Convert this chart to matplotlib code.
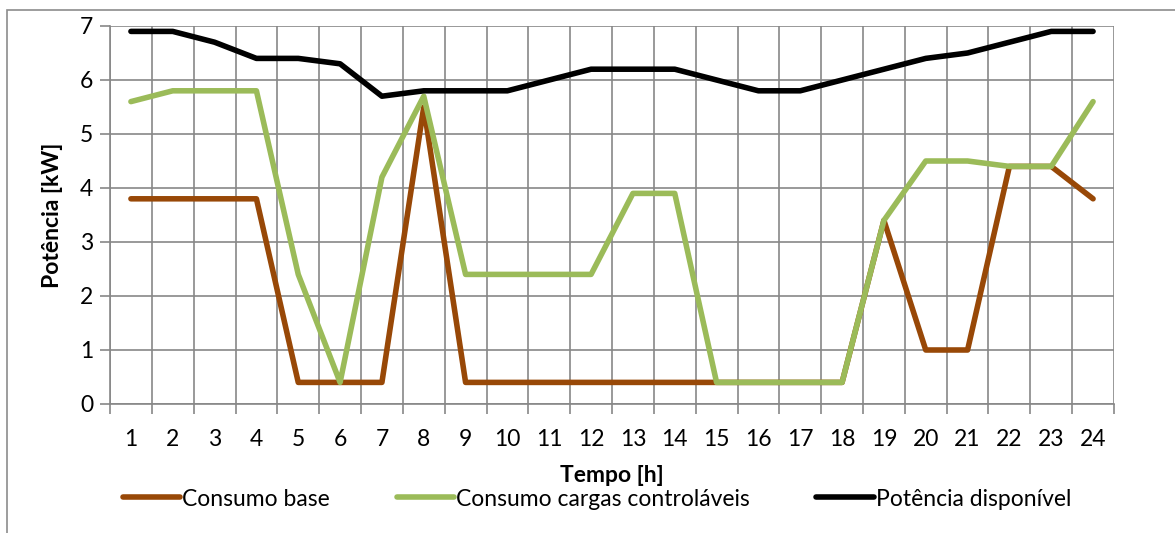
import matplotlib
matplotlib.use("Agg")
import matplotlib.pyplot as plt
from matplotlib.patches import Rectangle
from matplotlib.ticker import FixedLocator, NullFormatter

plt.rcParams["font.family"] = ["Lato", "DejaVu Sans"]

hours = list(range(1, 25))
consumo_base = [3.8, 3.8, 3.8, 3.8, 0.4, 0.4, 0.4, 5.5, 0.4, 0.4, 0.4, 0.4,
                0.4, 0.4, 0.4, 0.4, 0.4, 0.4, 3.4, 1.0, 1.0, 4.4, 4.4, 3.8]
consumo_controlaveis = [5.6, 5.8, 5.8, 5.8, 2.4, 0.4, 4.2, 5.7, 2.4, 2.4, 2.4, 2.4,
                        3.9, 3.9, 0.4, 0.4, 0.4, 0.4, 3.4, 4.5, 4.5, 4.4, 4.4, 5.6]
potencia_disponivel = [6.9, 6.9, 6.7, 6.4, 6.4, 6.3, 5.7, 5.8, 5.8, 5.8, 6.0, 6.2,
                       6.2, 6.2, 6.0, 5.8, 5.8, 6.0, 6.2, 6.4, 6.5, 6.7, 6.9, 6.9]

GRID = "#878787"
FS = 16.5

fig = plt.figure(figsize=(11.75, 5.33), dpi=100)
# outer chart-area frame (runs off the right and bottom edge like the original)
fig.patches.append(Rectangle((7 / 1175, -0.2), 1.2, 1.2 - 10 / 533,
                             transform=fig.transFigure, fill=False,
                             edgecolor="#8c8c8c", linewidth=1.2))
ax = fig.add_axes([110 / 1175, 1 - 404 / 533, 1004 / 1175, 378 / 533])

style = dict(linewidth=4, solid_capstyle="round", solid_joinstyle="round")
ax.plot(hours, consumo_base, color="#984807", label="Consumo base", **style)
ax.plot(hours, consumo_controlaveis, color="#9BBB59",
        label="Consumo cargas controláveis", **style)
ax.plot(hours, potencia_disponivel, color="black",
        label="Potência disponível", **style)

ax.set_xlim(0.5, 24.5)
ax.set_ylim(0, 7)
ax.set_yticks(range(0, 8))

# gridlines / tick marks on category boundaries, labels at category centres
ax.xaxis.set_major_locator(FixedLocator([h + 0.5 for h in range(0, 25)]))
ax.xaxis.set_major_formatter(NullFormatter())
ax.xaxis.set_minor_locator(FixedLocator(hours))
ax.set_xticklabels([str(h) for h in hours], minor=True)
ax.tick_params(axis="x", which="minor", length=0, pad=18, labelsize=FS)
ax.tick_params(axis="x", which="major", length=7, width=1.2, color=GRID)
ax.tick_params(axis="y", length=7, width=1.2, color=GRID, pad=5, labelsize=FS)

ax.grid(True, which="major", color=GRID, linewidth=1.2)
ax.set_axisbelow(True)
for side in ("top", "right"):
    ax.spines[side].set_visible(False)
for side in ("left", "bottom"):
    ax.spines[side].set_color(GRID)
    ax.spines[side].set_linewidth(1.2)

ax.set_xlabel("Tempo [h]", fontsize=FS, fontweight="bold", labelpad=11)
ax.set_ylabel("Potência [kW]", fontsize=FS, fontweight="bold", labelpad=12)

fig.legend(loc="center", bbox_to_anchor=(597 / 1175, 1 - 499 / 533), ncol=3,
           frameon=False, fontsize=FS, handlelength=2.5, handletextpad=0.1,
           columnspacing=2.9, borderaxespad=0)

fig.savefig("out.png", dpi=100)
